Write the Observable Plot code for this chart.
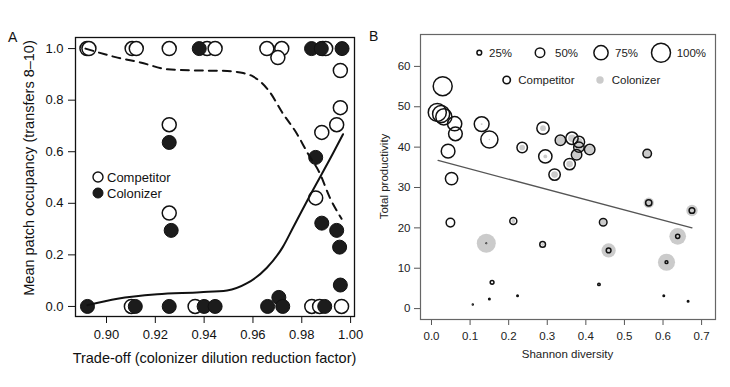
<!DOCTYPE html>
<html><head><meta charset="utf-8">
<script src="https://cdn.jsdelivr.net/npm/d3@7"></script>
<script src="https://cdn.jsdelivr.net/npm/@observablehq/plot@0.6"></script>
<style>
body{margin:0;background:#fff;}
#wrap{position:relative;width:730px;height:387px;font-family:"Liberation Sans",Arial,sans-serif;}
#wrap > svg{position:absolute;top:0;}
</style></head><body><div id="wrap"></div>
<script>
// ---------- Panel A data ----------
const compTradeoff = [0.8920,0.8928,0.9105,0.9122,0.9257,0.9257,0.9257,0.9412,0.9445,0.9657,0.9718,0.9702,0.9886,0.9898,0.9958,0.9958,0.9943,0.9882,0.9857,0.9841,0.9873,0.9963,0.9102,0.9363];
const compOccupancy = [1.0,1.0,1.0,1.0,1.0,0.705,0.362,1.0,1.0,1.0,1.0,0.965,1.0,1.0,0.915,0.771,0.705,0.675,0.421,0.0,0.0,0.0,0.0,0.0];
const colTradeoff = [0.8922,0.9118,0.9257,0.9257,0.9265,0.9400,0.9445,0.9380,0.9660,0.9706,0.9722,0.9840,0.9880,0.9965,0.9857,0.9882,0.9943,0.9955,0.9958,0.9894];
const colOccupancy = [0.0,0.0,0.0,0.636,0.295,0.0,0.0,1.0,0.0,0.035,0.0,1.0,1.0,1.0,0.578,0.323,0.295,0.230,0.083,0.0];
const compFitX = [0.8914,0.9045,0.9139,0.9250,0.9380,0.9465,0.9520,0.9560,0.9600,0.9670,0.9720,0.9780,0.9825,0.9873,0.9914,0.9963];
const compFitY = [1.0,0.965,0.946,0.920,0.915,0.914,0.911,0.905,0.892,0.830,0.752,0.670,0.593,0.518,0.424,0.340];
const colFitX = [0.8922,0.9045,0.9208,0.9384,0.9494,0.9574,0.9657,0.9722,0.9765,0.9826,0.9927,0.9969];
const colFitY = [0.005,0.030,0.047,0.055,0.062,0.089,0.150,0.230,0.307,0.417,0.592,0.668];
const tradeoffTicks = [0.90,0.92,0.94,0.96,0.98,1.00];
const occupancyTicks = [0.0,0.2,0.4,0.6,0.8,1.0];

// ---------- Panel B data ----------
const diversity    = [0.029,0.015,0.025,0.032,0.060,0.062,0.043,0.052,0.130,0.150,0.235,0.289,0.295,0.319,0.334,0.364,0.382,0.382,0.410,0.376,0.358,0.559,0.563,0.675,0.049,0.212,0.445,0.142,0.288,0.459,0.638,0.609,0.157,0.434,0.107,0.150,0.223,0.602,0.665];
const productivity = [55.1,48.6,48.2,47.5,45.8,43.3,39.0,32.2,45.7,41.9,39.9,44.7,37.7,33.2,41.7,42.2,41.3,40.0,39.4,38.1,35.8,38.4,26.2,24.3,21.3,21.7,21.4,16.2,15.9,14.4,17.9,11.5,6.5,6.0,1.0,2.4,3.2,3.2,1.8];
const competitorShare = [1.0,0.95,0.9,0.85,0.75,0.72,0.72,0.65,0.78,0.9,0.55,0.65,0.7,0.6,0.55,0.65,0.6,0.55,0.55,0.55,0.6,0.45,0.33,0.3,0.45,0.37,0.4,0.03,0.3,0.25,0.22,0.15,0.2,0.13,0.05,0.08,0.08,0.08,0.08];
const colonizerShare  = [0.02,0.02,0.0,0.0,0.02,0.0,0.02,0.02,0.1,0.08,0.3,0.3,0.2,0.35,0.45,0.4,0.4,0.45,0.45,0.45,0.35,0.42,0.55,0.6,0.02,0.2,0.3,1.0,0.15,0.75,0.88,0.9,0.0,0.0,0.0,0.0,0.0,0.0,0.0];
const fitDiversity = [0.017,0.675];
const fitProductivity = [36.7,20.0];
const diversityTicks = [0.0,0.1,0.2,0.3,0.4,0.5,0.6,0.7];
const productivityTicks = [0,10,20,30,40,50,60];
const sizeLegendValues = [0.25,0.5,0.75,1.0];
const sizeLegendLabels = ["25%","50%","75%","100%"];

const FONT = "Liberation Sans, Arial, sans-serif";
const wrap = document.getElementById("wrap");

// ---------- Panel A ----------
const compA = compTradeoff.map((x,i)=>({x, y: compOccupancy[i]}));
const colA = colTradeoff.map((x,i)=>({x, y: colOccupancy[i]}));
const compFit = compFitX.map((x,i)=>({x, y: compFitY[i]}));
const colFit = colFitX.map((x,i)=>({x, y: colFitY[i]}));

const plotA = Plot.plot({
  width: 365, height: 387,
  marginLeft: 75, marginRight: 11, marginTop: 37, marginBottom: 71,
  x: {domain: [0.8873, 1.0016]},
  y: {domain: [-0.039, 1.043]},
  style: {fontFamily: FONT, fontSize: "13px", color: "#111", background: "transparent", overflow: "visible"},
  marks: [
    Plot.axisX({ticks: tradeoffTicks, tickFormat: d3.format(".2f"), tickSize: 7, tickPadding: 6, label: null}),
    Plot.axisY({ticks: occupancyTicks, tickFormat: d3.format(".1f"), tickSize: 7, tickPadding: 5, label: null}),
    Plot.dot(compA, {x: "x", y: "y", r: 7, fill: "white", stroke: "#111", strokeWidth: 1.5}),
    Plot.dot(colA, {x: "x", y: "y", r: 7, fill: "#1c1c1c", stroke: "#111", strokeWidth: 1}),
    Plot.line(compFit, {x: "x", y: "y", curve: "monotone-x", stroke: "#111", strokeWidth: 2, strokeDasharray: "8,6"}),
    Plot.line(colFit, {x: "x", y: "y", curve: "monotone-x", stroke: "#111", strokeWidth: 2}),
    Plot.frame({stroke: "#111", strokeWidth: 1.3})
  ]
});
plotA.style.left = "0px";
wrap.appendChild(plotA);

// ---------- Panel B ----------
const ptsB = diversity.map((x,i)=>({x, y: productivity[i], comp: competitorShare[i], col: colonizerShare[i]}));
const fitB = fitDiversity.map((x,i)=>({x, y: fitProductivity[i]}));

const plotB = Plot.plot({
  width: 365, height: 387,
  marginLeft: 55, marginRight: 15, marginTop: 34, marginBottom: 68,
  x: {domain: [-0.0285, 0.736]},
  y: {domain: [-2.7, 67.9]},
  r: {type: "linear", domain: [0, 1], range: [0, 9.5]},
  style: {fontFamily: FONT, fontSize: "11.5px", color: "#222", background: "transparent", overflow: "visible"},
  marks: [
    Plot.axisX({ticks: diversityTicks, tickFormat: d3.format(".1f"), tickSize: 6, tickPadding: 6, label: null, stroke: "#555"}),
    Plot.axisY({ticks: productivityTicks, tickSize: 6, tickPadding: 4, label: null, stroke: "#555"}),
    Plot.dot(ptsB, {x: "x", y: "y", r: "col", fill: "#cbcbcb", stroke: null}),
    Plot.line(fitB, {x: "x", y: "y", stroke: "#555", strokeWidth: 1.3}),
    Plot.dot(ptsB, {x: "x", y: "y", r: "comp", fill: "none", stroke: "#111", strokeWidth: 1.5}),
    Plot.frame({stroke: "#666", strokeWidth: 1.2})
  ]
});
plotB.style.left = "365px";
wrap.appendChild(plotB);

// ---------- Overlay: titles, panel letters, legends ----------
const rScale = plotB.scale("r");
const rB = d3.scaleLinear().domain(rScale.domain).range(rScale.range);

const ov = d3.select(wrap).append("svg")
  .attr("width", 730).attr("height", 387)
  .style("left", "0px").style("pointer-events", "none")
  .attr("font-family", FONT).attr("fill", "#111");

// Panel letters
ov.append("text").attr("x", 8).attr("y", 42).attr("font-size", 14).text("A");
ov.append("text").attr("x", 369).attr("y", 41).attr("font-size", 14).text("B");

// Axis titles A
ov.append("text").attr("x", 214.5).attr("y", 363).attr("font-size", 14.5)
  .attr("text-anchor", "middle").text("Trade-off (colonizer dilution reduction factor)");
ov.append("text").attr("transform", "translate(29,168) rotate(-90)").attr("font-size", 14.5)
  .attr("text-anchor", "middle").attr("dy", "0.35em").text("Mean patch occupancy (transfers 8\u201310)");

// Axis titles B
ov.append("text").attr("x", 567.5).attr("y", 357.5).attr("font-size", 11.5).attr("fill", "#222")
  .attr("text-anchor", "middle").text("Shannon diversity");
ov.append("text").attr("transform", "translate(384,176.5) rotate(-90)").attr("font-size", 11.5).attr("fill", "#222")
  .attr("text-anchor", "middle").attr("dy", "0.35em").text("Total productivity");

// Legend A
ov.append("circle").attr("cx", 98).attr("cy", 177).attr("r", 5).attr("fill", "white").attr("stroke", "#111").attr("stroke-width", 1.4);
ov.append("text").attr("x", 107).attr("y", 177).attr("dy", "0.35em").attr("font-size", 13).text("Competitor");
ov.append("circle").attr("cx", 98).attr("cy", 193).attr("r", 5).attr("fill", "#1c1c1c").attr("stroke", "#111");
ov.append("text").attr("x", 107).attr("y", 193).attr("dy", "0.35em").attr("font-size", 13).text("Colonizer");

// Legend B sizes
const sizeCx = [479.3, 540, 601, 661];
const sizeTx = [489, 555, 615, 676.7];
sizeLegendValues.forEach((v,i)=>{
  ov.append("circle").attr("cx", sizeCx[i]).attr("cy", 52.7).attr("r", rB(v))
    .attr("fill", "none").attr("stroke", "#111").attr("stroke-width", 1.5);
  ov.append("text").attr("x", sizeTx[i]).attr("y", 52.7).attr("dy", "0.35em")
    .attr("font-size", 11.5).attr("fill", "#222").text(sizeLegendLabels[i]);
});
ov.append("circle").attr("cx", 506.7).attr("cy", 80).attr("r", 3.7).attr("fill", "none").attr("stroke", "#111").attr("stroke-width", 1.6);
ov.append("text").attr("x", 518.3).attr("y", 80).attr("dy", "0.35em").attr("font-size", 11.5).attr("fill", "#222").text("Competitor");
ov.append("circle").attr("cx", 600).attr("cy", 80).attr("r", 3.7).attr("fill", "#cbcbcb");
ov.append("text").attr("x", 611.7).attr("y", 80).attr("dy", "0.35em").attr("font-size", 11.5).attr("fill", "#222").text("Colonizer");
</script>
</body></html>
